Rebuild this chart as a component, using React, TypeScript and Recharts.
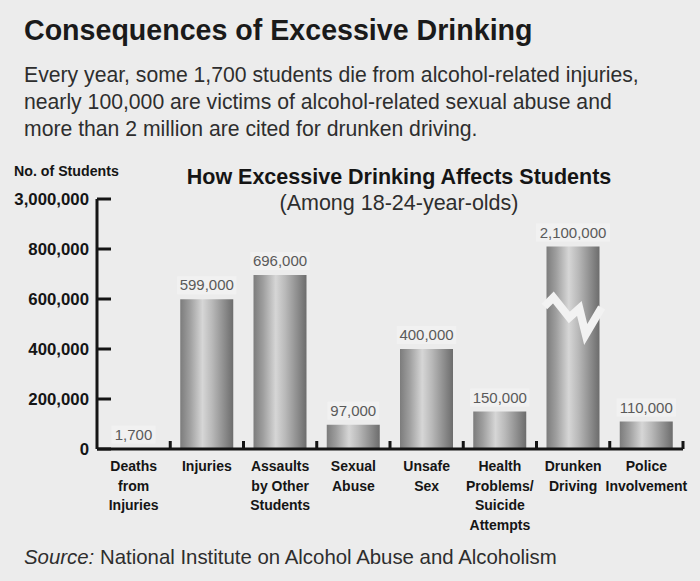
import React from "react";
import { BarChart, Bar, XAxis, YAxis, LabelList } from "recharts";

const categories = [
  "Deaths\nfrom\nInjuries",
  "Injuries",
  "Assaults\nby Other\nStudents",
  "Sexual\nAbuse",
  "Unsafe\nSex",
  "Health\nProblems/\nSuicide\nAttempts",
  "Drunken\nDriving",
  "Police\nInvolvement",
];
const students = [1700, 599000, 696000, 97000, 400000, 150000, 2100000, 110000];

// axis is broken above 800,000: the top tick stands for 3,000,000
const yTicks = [0, 200000, 400000, 600000, 800000, 1000000];
const yTickLabels = ["0", "200,000", "400,000", "600,000", "800,000", "3,000,000"];
const BREAK_CAP = 810000;

const W = 700;
const H = 581;
const PLOT_LEFT = 97;
const PLOT_RIGHT = 683;
const BAND = (PLOT_RIGHT - PLOT_LEFT) / categories.length;
const BG = "#ececec";
const FONT = "'Liberation Sans', Arial, Helvetica, sans-serif";

const data = categories.map((name, i) => ({
  name,
  value: students[i],
  drawn: Math.min(students[i], BREAK_CAP),
  broken: students[i] > BREAK_CAP,
}));

const fmt = (v: number) => v.toLocaleString("en-US");

const YTick = ({ x, y, payload }: any) => {
  const label = yTickLabels[yTicks.indexOf(payload.value)];
  return (
    <g>
      <line x1={x + 8} x2={x + 22} y1={y} y2={y} stroke="#151515" strokeWidth={3} />
      <text x={x} y={y} dy={6} textAnchor="end" fill="#151515" fontSize={16.8} fontWeight="bold" fontFamily={FONT}>
        {label}
      </text>
    </g>
  );
};

const XTick = ({ x, y, payload }: any) => {
  const lines = String(payload.value).split("\n");
  return (
    <g>
      <line x1={x + BAND / 2} x2={x + BAND / 2} y1={y - 8} y2={y} stroke="#151515" strokeWidth={3} />
      <text x={x} y={y + 22} textAnchor="middle" fill="#151515" fontSize={14} fontWeight="bold" fontFamily={FONT}>
        {lines.map((l, i) => (
          <tspan key={i} x={x} dy={i === 0 ? 0 : 19.5}>
            {l}
          </tspan>
        ))}
      </text>
    </g>
  );
};

const CylinderBar = (props: any) => {
  const { x, y, width, height, payload } = props;
  if (!height || height < 0.5) return null;
  const zig = [
    [-0.04, 60],
    [0.13, 51],
    [0.43, 71],
    [0.62, 62],
    [0.74, 88],
    [1.04, 61],
  ]
    .map(([fx, dy]) => `${x + fx * width},${y + dy}`)
    .join(" ");
  return (
    <g>
      <rect x={x} y={y} width={width} height={height} fill="url(#cyl)" />
      {payload.broken && (
        <polyline points={zig} fill="none" stroke="#f2f2f2" strokeWidth={8} strokeLinejoin="miter" />
      )}
    </g>
  );
};

const ValueLabel = (props: any) => {
  const { x, y, width, value } = props;
  const text = fmt(value);
  const cx = x + width / 2;
  const tw = text.length * 7.6;
  return (
    <g>
      <rect x={cx - tw / 2 - 3} y={y - 23} width={tw + 6} height={18} fill="#f1f1f1" />
      <text x={cx} y={y - 9} textAnchor="middle" fill="#5a5a5a" fontSize={15} fontFamily={FONT}>
        {text}
      </text>
    </g>
  );
};

export default function App() {
  return (
    <div
      style={{
        position: "absolute",
        left: 0,
        top: 0,
        width: W,
        height: H,
        background: BG,
        fontFamily: FONT,
        overflow: "hidden",
      }}
    >
      <div
        style={{
          position: "absolute",
          left: 24,
          top: 14,
          fontSize: 28.6,
          fontWeight: "bold",
          color: "#1a1a1a",
          whiteSpace: "nowrap",
        }}
      >
        Consequences of Excessive Drinking
      </div>
      <div
        style={{
          position: "absolute",
          left: 24,
          top: 61,
          fontSize: 21.2,
          lineHeight: "27px",
          color: "#2e2e2e",
          whiteSpace: "nowrap",
        }}
      >
        Every year, some 1,700 students die from alcohol-related injuries,
        <br />
        nearly 100,000 are victims of alcohol-related sexual abuse and
        <br />
        more than 2 million are cited for drunken driving.
      </div>
      <div style={{ position: "absolute", left: 14, top: 163, fontSize: 14.2, fontWeight: "bold", color: "#151515" }}>
        No. of Students
      </div>
      <div
        style={{
          position: "absolute",
          left: 150,
          width: 498,
          top: 165,
          textAlign: "center",
          fontSize: 21.5,
          fontWeight: "bold",
          color: "#151515",
          whiteSpace: "nowrap",
        }}
      >
        How Excessive Drinking Affects Students
      </div>
      <div
        style={{
          position: "absolute",
          left: 150,
          width: 498,
          top: 191,
          textAlign: "center",
          fontSize: 21.5,
          color: "#2e2e2e",
          whiteSpace: "nowrap",
        }}
      >
        (Among 18-24-year-olds)
      </div>
      <div style={{ position: "absolute", left: 0, top: 0 }}>
        <BarChart
          width={W}
          height={H}
          data={data}
          margin={{ top: 199, right: W - PLOT_RIGHT, bottom: 32, left: 0 }}
          barSize={53}
        >
          <defs>
            <linearGradient id="cyl" x1="0" y1="0" x2="1" y2="0">
              <stop offset="0%" stopColor="#7c7c7c" />
              <stop offset="18%" stopColor="#9e9e9e" />
              <stop offset="42%" stopColor="#d6d6d6" />
              <stop offset="60%" stopColor="#b9b9b9" />
              <stop offset="85%" stopColor="#898989" />
              <stop offset="100%" stopColor="#6c6c6c" />
            </linearGradient>
          </defs>
          <XAxis
            dataKey="name"
            height={100}
            interval={0}
            axisLine={{ stroke: "#151515", strokeWidth: 3 }}
            tickLine={false}
            tickSize={0}
            tickMargin={0}
            tick={<XTick />}
          />
          <YAxis
            width={PLOT_LEFT}
            domain={[0, 1000000]}
            ticks={yTicks}
            interval={0}
            axisLine={{ stroke: "#151515", strokeWidth: 3 }}
            tickLine={false}
            tickSize={0}
            tickMargin={8}
            tick={<YTick />}
          />
          <Bar dataKey="drawn" shape={<CylinderBar />} isAnimationActive={false}>
            <LabelList dataKey="value" content={<ValueLabel />} />
          </Bar>
        </BarChart>
      </div>
      <div style={{ position: "absolute", left: 24, top: 546, fontSize: 20.4, color: "#2e2e2e", whiteSpace: "nowrap" }}>
        <i>Source:</i> National Institute on Alcohol Abuse and Alcoholism
      </div>
    </div>
  );
}
